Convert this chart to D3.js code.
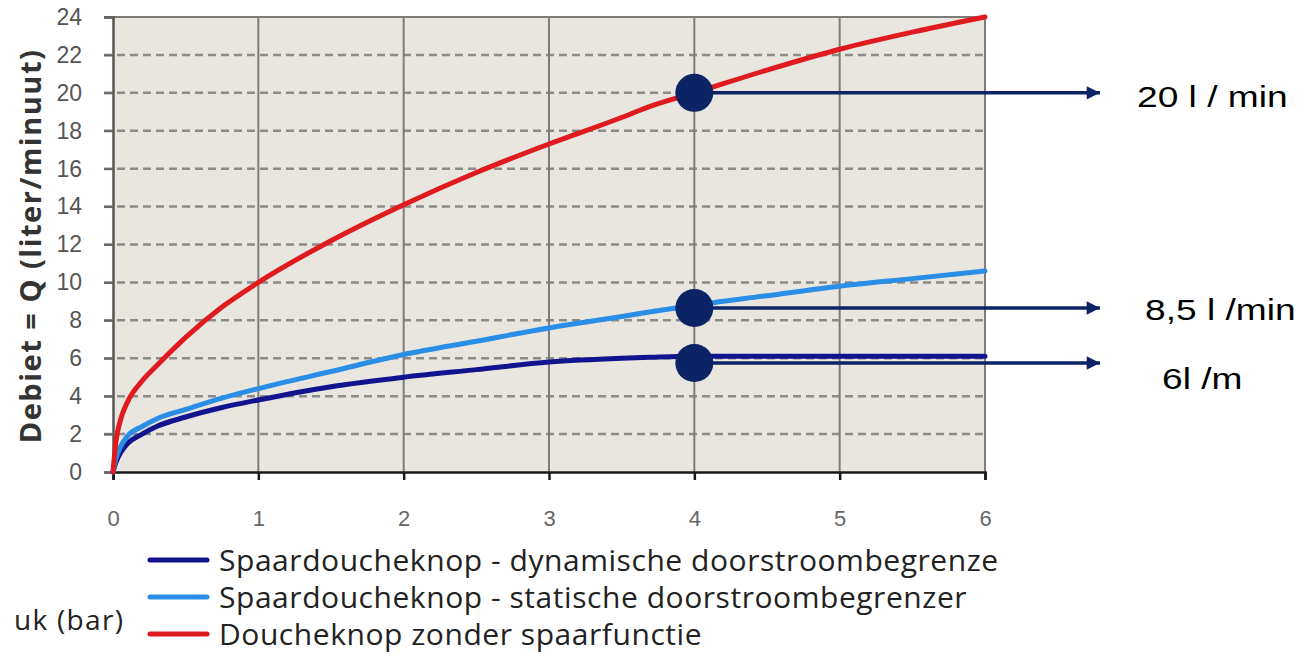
<!DOCTYPE html>
<html>
<head>
<meta charset="utf-8">
<script src="https://cdn.jsdelivr.net/npm/d3@7"></script>
<style>
  body { margin: 0; background: #fff; }
  svg { display: block; }
</style>
</head>
<body>
<div id="chart"></div>
<script>
// druk (bar) en debiet (liter/minuut)
var druk = [0, 0.02, 0.05, 0.1, 0.2, 0.3, 0.5, 0.75, 1, 1.5, 2, 2.5, 3, 3.5, 3.7, 4, 4.5, 5, 5.5, 6];
var zonderSpaar = [0, 1.6, 2.7, 3.7, 4.8, 5.6, 7.1, 8.7, 10, 12.2, 14.1, 15.8, 17.3, 18.7, 19.3, 20, 21.2, 22.3, 23.2, 24];
var statisch = [0, 0.7, 1.3, 1.9, 2.4, 2.8, 3.3, 3.9, 4.4, 5.3, 6.2, 6.9, 7.6, 8.2, 8.45, 8.8, 9.3, 9.8, 10.2, 10.6];
var dynamisch = [0, 0.5, 1.0, 1.5, 2.0, 2.4, 2.9, 3.4, 3.8, 4.5, 5.0, 5.4, 5.8, 6.0, 6.05, 6.1, 6.1, 6.1, 6.1, 6.1];

var xTicks = [0, 1, 2, 3, 4, 5, 6];
var yTicks = [0, 2, 4, 6, 8, 10, 12, 14, 16, 18, 20, 22, 24];

var legendNames = [
  "Spaardoucheknop - dynamische doorstroombegrenzer",
  "Spaardoucheknop - statische doorstroombegrenzer",
  "Doucheknop zonder spaarfunctie"
];
var legendColors = ["#13128f", "#2a8ee6", "#e01b1f"];

// aanduidingen bij 4 bar
var annoDruk = 4;
var annoValues = [20, 8.65, 5.75];
var annoLabels = ["20 l / min", "8,5 l /min", "6l /m"];

var width = 1308, height = 656;
var svg = d3.select("#chart").append("svg")
  .attr("width", width)
  .attr("height", height);

var x = d3.scaleLinear().domain([0, 6]).range([113, 985]);
var y = d3.scaleLinear().domain([0, 24]).range([472, 17]);

var defs = svg.append("defs");
defs.append("clipPath").attr("id", "legclip")
  .append("rect").attr("x", 0).attr("y", 0).attr("width", 1000).attr("height", height);
defs.append("marker")
  .attr("id", "arrow")
  .attr("viewBox", "0 0 10 10")
  .attr("refX", 10).attr("refY", 5)
  .attr("markerWidth", 4.6).attr("markerHeight", 3.8)
  .attr("markerUnits", "strokeWidth")
  .attr("orient", "auto")
  .append("path").attr("d", "M0,0 L10,5 L0,10 Z").attr("fill", "#0c2466");

// plot achtergrond
svg.append("rect")
  .attr("x", x(0)).attr("y", y(24))
  .attr("width", x(6) - x(0)).attr("height", y(0) - y(24))
  .attr("fill", "#e8e6df");

// horizontale gestippelde rasterlijnen
svg.selectAll(".hgrid").data(yTicks.filter(function(d) { return d > 0 && d < 24; }))
  .enter().append("line")
  .attr("x1", x(0) - 9).attr("x2", x(6))
  .attr("y1", function(d) { return y(d); }).attr("y2", function(d) { return y(d); })
  .attr("stroke", "#8c8b87").attr("stroke-width", 2.5)
  .attr("stroke-dasharray", "8,5");

// verticale rasterlijnen
svg.selectAll(".vgrid").data(xTicks.filter(function(d) { return d > 0; }))
  .enter().append("line")
  .attr("x1", function(d) { return x(d); }).attr("x2", function(d) { return x(d); })
  .attr("y1", y(24)).attr("y2", y(0))
  .attr("stroke", "#7d7c78").attr("stroke-width", 2);

// kader boven
svg.append("line")
  .attr("x1", x(0) - 9).attr("x2", x(6))
  .attr("y1", y(24)).attr("y2", y(24))
  .attr("stroke", "#7d7c78").attr("stroke-width", 2);

// assen
var yAxis = svg.append("g")
  .attr("transform", "translate(" + x(0) + ",0)")
  .call(d3.axisLeft(y).tickValues(yTicks).tickSize(9).tickPadding(22));
yAxis.select(".domain").attr("stroke", "#555").attr("stroke-width", 2.5);
yAxis.selectAll(".tick line").attr("stroke", "#666").attr("stroke-width", 2);
yAxis.selectAll(".tick text")
  .attr("font-family", "Liberation Sans, Arial, sans-serif")
  .attr("font-size", 23).attr("fill", "#555");

var xAxis = svg.append("g")
  .attr("transform", "translate(0," + y(0) + ")")
  .call(d3.axisBottom(x).tickValues(xTicks).tickFormat(d3.format("d")).tickSize(8).tickPadding(30));
xAxis.select(".domain").attr("stroke", "#1a1a1a").attr("stroke-width", 2.5);
xAxis.selectAll(".tick line").attr("stroke", "#1a1a1a").attr("stroke-width", 2.5);
xAxis.selectAll(".tick text")
  .attr("font-family", "Liberation Sans, Arial, sans-serif")
  .attr("font-size", 22).attr("fill", "#666");

// y-as titel
svg.append("text")
  .attr("transform", "translate(41,246) rotate(-90)")
  .attr("text-anchor", "middle")
  .attr("font-family", "Open Sans, sans-serif")
  .attr("font-weight", "bold")
  .attr("font-size", 29)
  .attr("letter-spacing", 1.5)
  .attr("fill", "#333")
  .text("Debiet = Q  (liter/minuut)");

// curves
var series = [dynamisch, statisch, zonderSpaar];
var line = d3.line()
  .x(function(d, i) { return x(druk[i]); })
  .y(function(d) { return y(d); })
  .curve(d3.curveMonotoneX);

svg.selectAll(".curve").data(series)
  .enter().append("path")
  .attr("d", line)
  .attr("fill", "none")
  .attr("stroke", function(d, i) { return legendColors[i]; })
  .attr("stroke-width", 5)
  .attr("stroke-linecap", "round");

// aanduidingen met pijlen
svg.selectAll(".annoline").data(annoValues)
  .enter().append("line")
  .attr("x1", x(annoDruk)).attr("x2", 1100)
  .attr("y1", function(d) { return y(d); }).attr("y2", function(d) { return y(d); })
  .attr("stroke", "#0c2466").attr("stroke-width", 3.5)
  .attr("marker-end", "url(#arrow)");

svg.selectAll(".dot").data(annoValues)
  .enter().append("circle")
  .attr("cx", x(annoDruk)).attr("cy", function(d) { return y(d); })
  .attr("r", 19)
  .attr("fill", "#0c2466");

var annoX = [1137, 1145, 1162];
var annoDy = [4, 2, 16];
svg.selectAll(".annotext").data(annoLabels)
  .enter().append("text")
  .attr("transform", function(d, i) {
    return "translate(" + annoX[i] + "," + (y(annoValues[i]) + annoDy[i]) + ") scale(1.28,1)";
  })
  .attr("dy", "0.36em")
  .attr("font-family", "Liberation Sans, Arial, sans-serif")
  .attr("font-size", 29)
  .attr("fill", "#000")
  .text(function(d) { return d; });

// legenda
var legend = svg.append("g").attr("clip-path", "url(#legclip)");
var legRows = legend.selectAll(".leg").data(legendNames)
  .enter().append("g")
  .attr("transform", function(d, i) { return "translate(0," + (560 + i * 37) + ")"; });
legRows.append("line")
  .attr("x1", 150).attr("x2", 207)
  .attr("stroke", function(d, i) { return legendColors[i]; })
  .attr("stroke-width", 5)
  .attr("stroke-linecap", "round");
legRows.append("text")
  .attr("x", 219).attr("dy", "0.36em")
  .attr("font-family", "Open Sans, sans-serif")
  .attr("font-size", 30)
  .attr("letter-spacing", 0.55)
  .attr("fill", "#222")
  .text(function(d) { return d; });

svg.append("text")
  .attr("x", 14).attr("y", 620).attr("dy", "0.36em")
  .attr("font-family", "Open Sans, sans-serif")
  .attr("font-size", 28)
  .attr("letter-spacing", 1.3)
  .attr("fill", "#222")
  .text("uk (bar)");
</script>
</body>
</html>
